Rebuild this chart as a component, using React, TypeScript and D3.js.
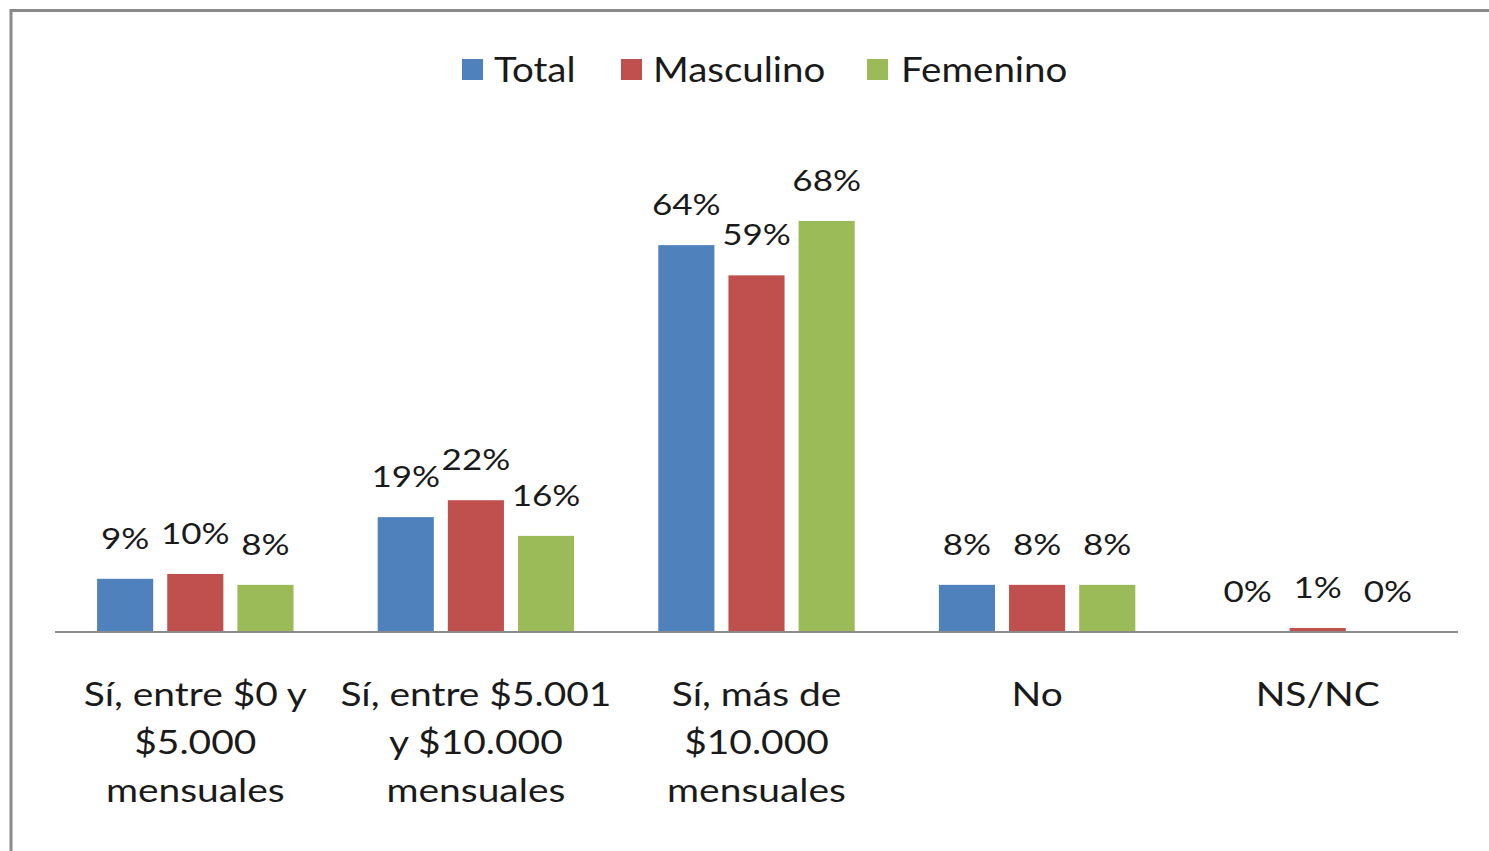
import React from "react";
import * as d3 from "d3";

const categories: string[][] = [
  ["Sí, entre $0 y", "$5.000", "mensuales"],
  ["Sí, entre $5.001", "y $10.000", "mensuales"],
  ["Sí, más de", "$10.000", "mensuales"],
  ["No"],
  ["NS/NC"],
];
const seriesNames = ["Total", "Masculino", "Femenino"];
const seriesColors = ["#4F81BD", "#C0504D", "#9BBB59"];
const totalValues = [8.8, 19.0, 64.0, 7.8, 0];
const masculinoValues = [9.6, 21.8, 59.0, 7.8, 0.66];
const femeninoValues = [7.8, 15.9, 68.0, 7.8, 0];
const seriesValues = [totalValues, masculinoValues, femeninoValues];

const W = 1489;
const H = 851;
const FONT = "Lato, 'Open Sans', sans-serif";

export default function App() {
  const plotLeft = 55;
  const plotRight = 1458;
  const baseY = 632;
  const x0 = d3
    .scaleBand<number>()
    .domain(categories.map((_, i) => i))
    .range([plotLeft, plotRight])
    .padding(0);
  const x1 = d3
    .scaleBand<number>()
    .domain(seriesNames.map((_, i) => i))
    .range([0, x0.step()])
    .paddingInner(0.2)
    .paddingOuter(0.6);
  const y = d3.scaleLinear().domain([0, 70]).range([baseY, baseY - 70 * 6.045]);

  const legendItems = [
    { sq: 462, tx: 494 },
    { sq: 621, tx: 653 },
    { sq: 867, tx: 901 },
  ];

  return (
    <svg
      width={W}
      height={H}
      style={{ position: "absolute", left: 0, top: 0, background: "#fff" }}
      fontFamily={FONT}
    >
      <rect x={0} y={0} width={W} height={H} fill="#fff" />
      <rect x={11} y={10.5} width={W + 20} height={H + 20} fill="none" stroke="#8a8a8a" strokeWidth={3} />

      {/* legend */}
      {seriesNames.map((name, i) => (
        <g key={name}>
          <rect x={legendItems[i].sq} y={59} width={21} height={21} fill={seriesColors[i]} />
          <g transform={`translate(${legendItems[i].tx},82) scale(1.1,1)`}>
            <text x={0} y={0} fontSize={35} fill="#1a1a1a">
              {name}
            </text>
          </g>
        </g>
      ))}

      {/* bars */}
      {seriesValues.map((vals, si) =>
        vals.map((v, ci) => {
          const bx = (x0(ci) as number) + (x1(si) as number);
          const by = y(v);
          return (
            <rect
              key={`b${si}-${ci}`}
              x={bx}
              y={by}
              width={x1.bandwidth()}
              height={baseY - by}
              fill={seriesColors[si]}
            />
          );
        })
      )}

      {/* axis line */}
      <line x1={plotLeft} x2={plotRight} y1={baseY} y2={baseY} stroke="#8a8a8a" strokeWidth={2} />

      {/* value labels */}
      {seriesValues.map((vals, si) =>
        vals.map((v, ci) => {
          const cx = (x0(ci) as number) + (x1(si) as number) + x1.bandwidth() / 2;
          const by = y(v);
          return (
            <g key={`l${si}-${ci}`} transform={`translate(${cx},${by - 30}) scale(1.25,1)`}>
              <text x={0} y={0} fontSize={28} textAnchor="middle" fill="#1a1a1a">
                {`${Math.round(v)}%`}
              </text>
            </g>
          );
        })
      )}

      {/* category labels */}
      {categories.map((lines, ci) => {
        const cx = (x0(ci) as number) + x0.bandwidth() / 2;
        return lines.map((ln, li) => (
          <g key={`c${ci}-${li}`} transform={`translate(${cx},${706 + li * 48}) scale(1.18,1)`}>
            <text x={0} y={0} fontSize={33} textAnchor="middle" fill="#1a1a1a">
              {ln}
            </text>
          </g>
        ));
      })}
    </svg>
  );
}
